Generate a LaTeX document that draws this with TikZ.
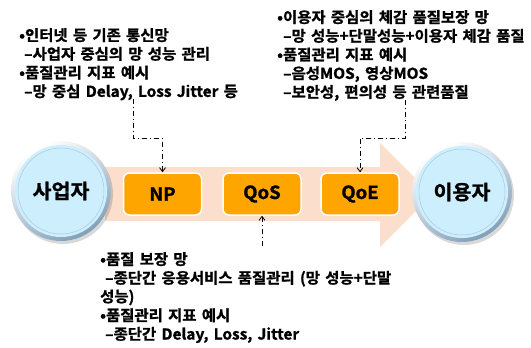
\documentclass[tikz,border=0pt]{standalone}
\usepackage{fontspec}
\setmainfont{Noto Sans CJK KR}[BoldFont={Noto Sans CJK KR Bold}, BoldFeatures={FakeBold=1.2}, FakeStretch=1.03, WordSpace=1.5]
\usetikzlibrary{arrows.meta}
\definecolor{peach}{RGB}{252,222,204}
\definecolor{boxorange}{RGB}{255,165,0}
\definecolor{discblue}{RGB}{205,238,252}
\definecolor{ringblue}{RGB}{170,200,220}
\definecolor{bevel}{RGB}{130,160,185}
\tikzset{
  qbox/.style={rectangle, rounded corners=6pt, fill=boxorange, draw=white, line width=1.5pt,
    minimum width=78pt, minimum height=42pt, inner sep=0pt,
    font=\bfseries\fontsize{18}{18}\selectfont},
  bigcirc/.style={circle, minimum size=100pt, inner sep=0pt,
    top color=white, bottom color=bevel, shading angle=30,
    font=\bfseries\fontsize{20}{20}\selectfont,
    path picture={
      \fill[discblue] (path picture bounding box.center) circle (46pt);
      \draw[ringblue, line width=0.5pt] (path picture bounding box.center) circle (43pt);
    }},
  txt/.style={anchor=north west, inner sep=0pt, align=left,
    font=\bfseries\fontsize{15}{18.7}\selectfont},
  conn/.style={draw=black, line width=0.8pt, dash pattern=on 5pt off 3pt on 1pt off 3pt,
    -{Straight Barb[length=4pt,width=6pt]}},
}
\begin{document}
\begin{tikzpicture}[x=1pt,y=-1pt]
\useasboundingbox (0,0) rectangle (531,348);
\fill[white] (0,0) rectangle (531,348);
% big arrow band
\fill[peach] (105,167) -- (380,167) -- (380,143) -- (432,195) -- (380,247) -- (380,221) -- (105,221) -- cycle;
% shadows of circles
\fill[black, opacity=0.15] (63,194) circle (50);
\fill[black, opacity=0.15] (464,195) circle (50);
% circles
\node[bigcirc] (sa) at (61,191) {사업자};
\node[bigcirc] (ie) at (462,192) {이용자};
% boxes
\node[qbox] (np) at (162.5,194) {NP};
\node[qbox] (qos) at (262,194) {QoS};
\node[qbox] (qoe) at (360,194) {QoE};
% text blocks
\node[txt] (tltext) at (19,28) {•인터넷 등 기존 통신망\\\hspace{5pt}–사업자 중심의 망 성능 관리\\•품질관리 지표 예시\\\hspace{5pt}–망 중심 Delay, Loss Jitter 등};
\node[txt] (trtext) at (277,10) {•이용자 중심의 체감 품질보장 망\\\hspace{6pt}–망 성능+단말성능+이용자 체감 품질\\•품질관리 지표 예시\\\hspace{6pt}–음성MOS, 영상MOS\\\hspace{6pt}–보안성, 편의성 등 관련품질};
\node[txt] (btext) at (100,252) {•품질 보장 망\\\hspace{5pt}–종단간 응용서비스 품질관리 (망 성능+단말\\성능)\\•품질관리 지표 예시\\\hspace{5pt}–종단간 Delay, Loss, Jitter};
% connectors
\coordinate (tl) at (133,99);
\coordinate (tr) at (405,100);
\coordinate (bm) at (262,246);
\draw[conn] (tl) |- ([yshift=34pt]np.north) -- (np.north);
\draw[conn] (tr) |- ([yshift=34pt]qoe.north) -- (qoe.north);
\draw[conn] (bm) -- (qos.south);
\end{tikzpicture}
\end{document}
